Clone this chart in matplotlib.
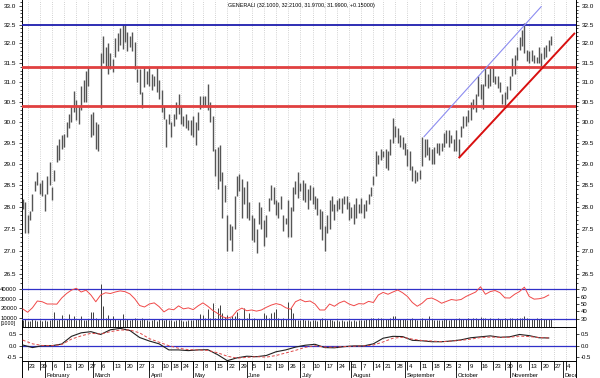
import numpy as np
import pandas as pd
import matplotlib
matplotlib.use("Agg")
import matplotlib.pyplot as plt
from matplotlib.ticker import FixedLocator, FormatStrFormatter, NullFormatter

plt.rcParams['font.family'] = ['Liberation Sans', 'DejaVu Sans']

# Borsa Italiana sessions, 2006
holidays = pd.to_datetime(['2006-04-14', '2006-04-17', '2006-05-01', '2006-08-15'])
days = pd.bdate_range('2006-01-19', '2006-12-08')
days = days[~days.isin(holidays)]

low = [27.95, 27.4, 27.4, 27.7, 27.9, 28.35, 28.5, 28.3, 28.25, 27.9,
       28.3, 28.5, 28.15, 28.6, 29.05, 29.1, 29.35, 29.4, 29.65, 29.85,
       30.0, 30.25, 30.05, 29.95, 30.3, 30.5, 30.5, 30.9, 29.65, 29.7,
       29.35, 29.3, 30.35, 31.5, 31.4, 31.2, 31.35, 31.25,
       31.65, 31.8, 31.95, 31.85, 32.05, 31.8, 31.9, 31.8, 31.35, 31.0,
       30.7, 30.35, 30.87, 30.95, 30.9, 30.8, 30.9, 30.75, 30.57, 30.25,
       30.08, 29.4, 29.95, 29.65, 29.9, 30.08, 30.2, 29.95, 29.9, 29.85,
       29.8, 29.7, 29.65, 29.45, 29.8, 30.33, 30.4,
       30.4, 30.3, 30.0, 29.3, 28.7, 28.4, 28.6, 27.75, 28.1, 27.0,
       27.25, 27.0, 27.5, 28.25, 28.35, 27.75, 28.05, 27.75, 27.7, 27.25,
       27.2, 26.95, 27.6, 27.5, 27.1, 27.3, 27.9, 28.15, 28.05, 27.8,
       27.75, 27.95, 27.45, 27.6, 27.3, 27.3, 27.9,
       28.3, 28.2, 28.35, 28.15, 28.1, 27.95, 28.15, 28.05, 27.95, 27.8,
       27.5, 27.25, 27.0, 27.4, 27.5, 27.9, 27.7, 27.9, 27.95, 27.85,
       28.05, 27.95, 27.7, 27.75, 27.6, 27.75, 27.85, 27.85, 27.75, 27.9,
       28.05, 28.25, 28.5, 28.7, 29.0, 29.1, 29.15,
       28.9, 28.85, 29.2, 29.5, 29.65, 29.5, 29.4, 29.35, 29.2, 28.95,
       28.85, 28.6, 28.55, 28.6, 28.65, 28.95, 29.15, 29.2, 29.1, 29.0,
       29.0, 29.25, 29.2, 29.3, 29.4, 29.5, 29.4, 29.5, 29.3, 29.3,
       29.15, 29.65, 29.85, 29.9, 30.0,
       30.05, 30.32, 30.25, 30.65, 30.57, 30.32, 30.9, 30.85, 30.9, 31.0,
       30.95, 30.85, 30.75, 30.45, 30.35, 30.57, 30.8, 31.15, 31.2, 31.58,
       31.83, 31.93, 31.75, 31.55, 31.5, 31.55, 31.5, 31.5, 31.5, 31.4,
       31.6, 31.65, 31.8, 31.97]

high = [28.17, 28.1, 27.8, 27.9, 28.3, 28.6, 28.8, 28.55, 28.62, 28.3,
        28.7, 29.05, 28.45, 28.85, 29.45, 29.6, 29.7, 29.72, 30.0, 30.2,
        30.4, 30.77, 30.55, 30.4, 30.9, 31.05, 31.3, 31.4, 30.2, 30.25,
        30.0, 29.95, 31.75, 32.2, 31.9, 32.0, 31.75, 31.6,
        32.15, 32.27, 32.4, 32.48, 32.5, 32.3, 32.2, 32.3, 32.05, 31.35,
        31.35, 30.75, 31.38, 31.3, 31.38, 31.2, 31.15, 31.4, 31.07, 30.8,
        30.4, 30.08, 30.2, 30.0, 30.2, 30.5, 30.7, 30.4, 30.15, 30.2,
        30.05, 30.05, 30.15, 30.0, 30.25, 30.65, 30.65,
        30.65, 30.95, 30.5, 30.15, 29.36, 29.4, 29.45, 28.8, 28.5, 27.8,
        27.6, 27.55, 28.25, 28.7, 28.75, 28.65, 28.45, 28.6, 28.1, 27.8,
        27.75, 27.5, 28.1, 28.0, 27.7, 27.8, 28.2, 28.5, 28.45, 28.15,
        28.1, 28.25, 27.8, 27.75, 28.15, 28.0, 28.45,
        28.6, 28.8, 28.55, 28.62, 28.55, 28.4, 28.5, 28.45, 28.25, 28.2,
        27.95, 27.9, 27.55, 27.8, 28.15, 28.25, 28.05, 28.15, 28.2, 28.2,
        28.25, 28.25, 28.1, 28.0, 28.05, 28.2, 28.05, 28.2, 28.05, 28.15,
        28.3, 28.45, 28.7, 29.3, 29.2, 29.35, 29.3,
        29.35, 29.3, 29.6, 30.1, 29.9, 29.85, 29.7, 29.65, 29.5, 29.35,
        29.3, 28.95, 28.85, 28.8, 28.85, 29.65, 29.6, 29.6, 29.4, 29.35,
        29.4, 29.5, 29.5, 29.5, 29.75, 29.8, 29.8, 29.7, 29.6, 29.8,
        29.6, 29.9, 30.15, 30.15, 30.3,
        30.5, 30.57, 30.7, 31.15, 30.95, 30.95, 31.37, 31.22, 31.37, 31.4,
        31.15, 31.15, 31.0, 30.7, 30.75, 30.9, 31.15, 31.63, 31.7, 31.9,
        32.17, 32.35, 32.55, 31.83, 31.8, 31.83, 31.7, 31.65, 31.9, 31.75,
        31.9, 31.95, 32.1, 32.21]

volume = [7500, 8200, 6800, 7000, 8500, 7200, 6500, 7800, 7000, 8000,
          6900, 7400, 8800, 15900, 7600, 8300, 13100, 7900, 8600, 14100,
          8400, 12100, 7700, 9000, 11400, 8100, 7500, 8800, 15500, 16500,
          9200, 8700, 45900, 22400, 9500, 13100, 8900, 11400, 8200, 7600,
          8500, 14100, 7800, 8300, 7100, 8900, 9300, 8000, 7400, 9600,
          8200, 7300, 6900, 7700, 8400, 7000, 8800, 9100, 7500, 8300,
          7200, 8100, 6800, 7600, 8700, 7900, 7000, 6600, 7300, 8000,
          7700, 8600, 9000, 14100, 13100, 9400, 19000, 10200, 25200, 9800,
          20000, 23400, 14900, 10500, 13100, 9600, 12100, 11400, 16500, 9900,
          8800, 20000, 9300, 14900, 8600, 9700, 8200, 9000, 8400, 14900,
          13100, 9500, 14900, 16500, 19000, 9200, 8700, 9900, 8500, 26900,
          20000, 14900, 9100, 8000, 7600, 8300, 7200, 7900, 6800, 7400,
          8100, 7000, 8900, 9300, 8600, 7700, 8200, 7100, 6900, 7500,
          6600, 7200, 6400, 7000, 7800, 6700, 7300, 6900, 7600, 8000,
          7100, 8400, 8800, 9200, 9500, 8900, 9700, 10100, 9000, 8600,
          8300, 9400, 11400, 12100, 8800, 9100, 8200, 8700, 7900, 8500,
          9600, 8400, 7800, 8100, 9800, 8600, 7900, 11400, 8300, 7700,
          8000, 7200, 7500, 8900, 8400, 7800, 8600, 9000, 8200, 9300,
          8700, 9100, 8400, 9500, 8800, 9200, 9600, 8500, 10500, 9900,
          9400, 8900, 9700, 9100, 8600, 9300, 8800, 9000, 9800, 8400,
          9200, 9500, 8700, 9900, 10100, 9400, 11400, 9600, 9000, 8800,
          8500, 9200, 8900, 9300, 8600, 8800, 8400, 8700]

# RSI, every second session
rsi = [43.5, 39, 45, 54, 53, 50, 50, 49.8, 58, 64,
       68.5, 71, 66, 68.5, 62, 53, 62, 65, 64, 66,
       67.5, 66.5, 63.5, 57, 48, 46, 50, 51.5, 46.5, 39.5,
       43.5, 42.3, 47.5, 43.5, 44.8, 42.5, 47.5, 51.5, 47, 41.5,
       37.5, 33, 31, 33, 41, 44.5, 41, 42, 40.5, 42,
       45.5, 48.5, 50.5, 49, 45, 43, 53, 56, 53, 54,
       50, 42, 42, 50, 47, 51.5, 54, 50, 47.7, 50.5,
       50, 53.5, 52, 62, 65.5, 63, 66, 68.7, 65, 60,
       52, 47, 51, 57, 58, 55, 51, 53.5, 56, 55,
       56, 60, 63, 66, 73, 63, 66.6, 68, 65, 58.2,
       58, 63, 66.6, 72.5, 60, 56.5, 57, 58.5, 62]

# MACD and signal, every fourth session
macd = [0.03, -0.08, 0.0, 0.0, 0.07, 0.4, 0.55, 0.6, 0.48, 0.68,
        0.74, 0.65, 0.35, 0.2, 0.08, -0.18, -0.18, -0.21, -0.18, -0.17,
        -0.38, -0.64, -0.52, -0.45, -0.47, -0.42, -0.26, -0.18, -0.06, 0.02,
        0.06, -0.08, -0.09, -0.04, -0.01, -0.01, 0.08, 0.32, 0.4, 0.39,
        0.23, 0.21, 0.17, 0.17, 0.2, 0.25, 0.34, 0.38, 0.42, 0.36,
        0.38, 0.48, 0.43, 0.34, 0.33]
signal = [0.24, 0.08, 0.01, 0.0, 0.05, 0.28, 0.42, 0.53, 0.5, 0.6,
          0.67, 0.67, 0.55, 0.3, 0.15, 0.0, -0.11, -0.17, -0.18, -0.2,
          -0.3, -0.45, -0.53, -0.5, -0.47, -0.49, -0.42, -0.31, -0.2, -0.07,
          0.0, -0.06, -0.06, -0.04, -0.02, -0.01, 0.03, 0.16, 0.32, 0.36,
          0.28, 0.22, 0.2, 0.17, 0.2, 0.23, 0.28, 0.35, 0.37, 0.36,
          0.36, 0.41, 0.39, 0.35, 0.33]

resistance = 32.5
supports = [31.4, 30.4]
channel = [(164.8, 29.65), (212.9, 32.98)]
trendline = [(179.3, 29.15), (226.5, 32.26)]
title = "GENERALI (32.1000, 32.2100, 31.9700, 31.9900, +0.15000)"

x = np.arange(len(low))
xlim = (-0.3, 227.2)

# weekly and monthly markers from the calendar
wk = days.isocalendar().week.values
week_starts = [i for i in range(2, len(days)) if wk[i] != wk[i - 1]]
month_starts = [i for i in range(1, len(days)) if days[i].month != days[i - 1].month]

fig = plt.figure(figsize=(6, 3.78), dpi=100)
L, W = 22 / 600, 554 / 600
H = 378
ax = fig.add_axes([L, 1 - 284 / H, W, 284 / H])
axv = fig.add_axes([L, 1 - 326.7 / H, W, 42.7 / H])
axm = fig.add_axes([L, 1 - 361 / H, W, 34.3 / H])
axd = fig.add_axes([L, 0, W, 17 / H])

grid_kw = dict(color='#c4c4c4', lw=0.6, ls=(0, (1, 1.6)), zorder=0)
for a in (ax, axv, axm):
    a.set_xlim(*xlim)
    a.set_xticks([])
    for i in week_starts:
        a.axvline(i, **grid_kw)
    for s in a.spines.values():
        s.set_linewidth(0.7)

# price panel
ax.vlines(x, low, high, color='#555555', lw=1.0, zorder=3)
ax.axhline(resistance, color='#1c1cae', lw=1.3, zorder=4)
for s in supports:
    ax.axhline(s, color='#e04040', lw=2, zorder=4)
ax.plot(*zip(*channel), color='#8c8cf0', lw=0.8, zorder=4)
ax.plot(*zip(*trendline), color='#d81010', lw=1.4, zorder=4)
ax.set_yscale('log')
ax.set_ylim(26.28, 33.16)
ax.yaxis.set_major_locator(FixedLocator(np.arange(26.5, 33.01, 0.5)))
ax.yaxis.set_major_formatter(FormatStrFormatter('%.1f'))
ax.yaxis.set_minor_locator(FixedLocator(np.arange(26.3, 33.15, 0.1)))
ax.yaxis.set_minor_formatter(NullFormatter())
ax.tick_params(axis='y', which='both', left=True, right=True, labelleft=True,
               labelright=True, labelsize=4.6, pad=1.5, width=0.5)
ax.tick_params(axis='y', which='major', length=2.5)
ax.tick_params(axis='y', which='minor', length=1.2)
ax.spines['top'].set_visible(False)
ax.spines['bottom'].set_visible(False)
fig.text(228 / 600, 1 - 6 / H, title, fontsize=3.9, va='center', ha='left')

# volume + RSI panel
axv.vlines(x, 0, volume, color='#3c3c3c', lw=0.7, zorder=2)
axv.set_ylim(500, 45600)
axv.set_yticks([10000, 20000, 30000, 40000])
axv.tick_params(axis='y', labelsize=4.3, pad=1.5, length=2, width=0.5)
axv.spines['top'].set_visible(False)
axv.spines['bottom'].set_visible(False)
fig.text(1 / 600, 1 - 323 / H, '[1000]', fontsize=3.8, va='center', ha='left')

axr = axv.twinx()
axr.set_xlim(*xlim)
axr.plot(x[::2], rsi, color='#f04848', lw=0.7, zorder=3)
axr.axhline(70, color='#3030c8', lw=0.9)
axr.axhline(30, color='#3030c8', lw=0.9)
axr.set_ylim(19.7, 76.7)
axr.set_yticks([30, 40, 50, 60, 70])
axr.tick_params(axis='y', labelsize=4.3, pad=1.5, length=2, width=0.5)
for s in axr.spines.values():
    s.set_visible(False)

# MACD panel
axm.plot(x[::4], macd, color='#202020', lw=0.8, zorder=3)
axm.plot(x[::4], signal, color='#e04848', lw=0.7, ls=(0, (3, 2)), zorder=3)
axm.axhline(0, color='#3030c8', lw=0.9)
axm.set_ylim(-0.654, 0.812)
axm.set_yticks([-0.5, 0.0, 0.5])
axm.yaxis.set_major_formatter(FormatStrFormatter('%.1f'))
axm.tick_params(axis='y', left=True, right=True, labelleft=True, labelright=True,
                labelsize=4.3, pad=1.5, length=2, width=0.5)

# date strip
axd.set_xlim(*xlim)
axd.set_ylim(0, 1)
axd.set_xticks([])
axd.set_yticks([])
axd.spines['bottom'].set_visible(False)
for s in axd.spines.values():
    s.set_linewidth(0.7)
for i in week_starts:
    axd.vlines(i, 0.45, 1, color='black', lw=0.6)
    axd.text(i + 0.6, 0.68, str(days[i].day), fontsize=4.3, ha='left', va='center', clip_on=True)
for i in month_starts:
    axd.vlines(i, 0, 1, color='black', lw=0.6)
    axd.text(i + 0.6, 0.16, days[i].strftime('%B'), fontsize=4.2, ha='left', va='center', clip_on=True)

fig.savefig('out.png', dpi=100)
